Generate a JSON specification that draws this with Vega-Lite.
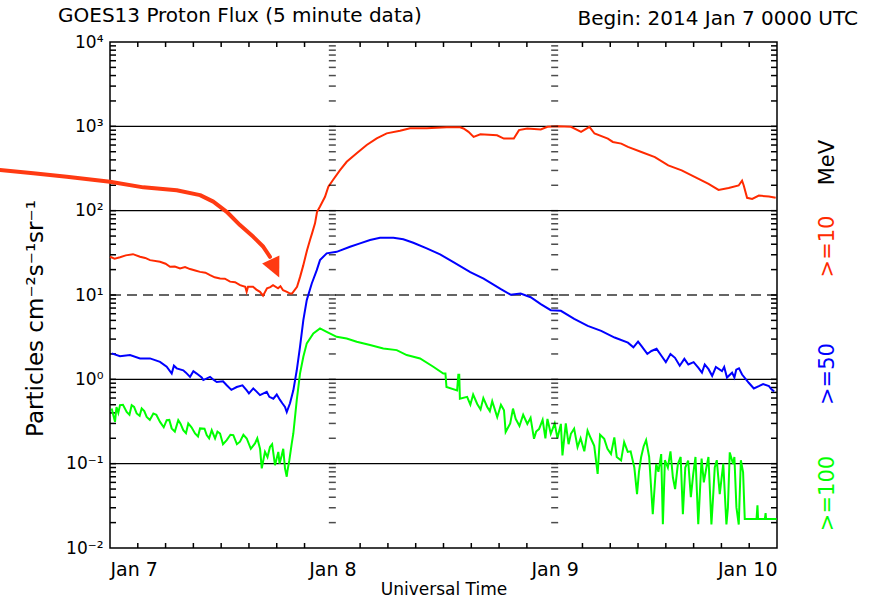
{
  "$schema": "https://vega.github.io/schema/vega-lite/v6.json",
  "width": 667,
  "height": 506,
  "autosize": {"type": "none"},
  "padding": {"left": 110, "top": 42, "right": 101, "bottom": 49},
  "background": "white",
  "config": {
    "font": "DejaVu Sans",
    "view": {"stroke": "black", "strokeWidth": 1.5},
    "axis": {"grid": false, "domain": false, "ticks": false, "labelColor": "black", "titleColor": "black", "titleFontWeight": "normal"}
  },
  "title": {"text": "GOES13 Proton Flux (5 minute data)", "anchor": "start", "frame": "group", "dx": -52, "fontSize": 20, "fontWeight": "normal", "color": "black", "offset": -17},
  "resolve": {"axis": {"x": "independent", "y": "independent"}},
  "datasets": {
    "grid": [{"v": 1000}, {"v": 100}, {"v": 1}, {"v": 0.1}],
    "ytick": [
      {"v": 0.02}, {"v": 0.03}, {"v": 0.04}, {"v": 0.05}, {"v": 0.06}, {"v": 0.07}, {"v": 0.08}, {"v": 0.09}, {"v": 0.1},
      {"v": 0.2}, {"v": 0.3}, {"v": 0.4}, {"v": 0.5}, {"v": 0.6}, {"v": 0.7}, {"v": 0.8}, {"v": 0.9}, {"v": 1},
      {"v": 2}, {"v": 3}, {"v": 4}, {"v": 5}, {"v": 6}, {"v": 7}, {"v": 8}, {"v": 9}, {"v": 10},
      {"v": 20}, {"v": 30}, {"v": 40}, {"v": 50}, {"v": 60}, {"v": 70}, {"v": 80}, {"v": 90}, {"v": 100},
      {"v": 200}, {"v": 300}, {"v": 400}, {"v": 500}, {"v": 600}, {"v": 700}, {"v": 800}, {"v": 900}, {"v": 1000},
      {"v": 2000}, {"v": 3000}, {"v": 4000}, {"v": 5000}, {"v": 6000}, {"v": 7000}, {"v": 8000}, {"v": 9000}
    ],
    "xtick": [
      {"h": 3}, {"h": 6}, {"h": 9}, {"h": 12}, {"h": 15}, {"h": 18}, {"h": 21},
      {"h": 27}, {"h": 30}, {"h": 33}, {"h": 36}, {"h": 39}, {"h": 42}, {"h": 45},
      {"h": 51}, {"h": 54}, {"h": 57}, {"h": 60}, {"h": 63}, {"h": 66}, {"h": 69}
    ],
    "p10": [
      {"h": 0, "v": 28.4}, {"h": 1.08, "v": 28}, {"h": 2.48, "v": 30.5}, {"h": 3.24, "v": 28.4}, {"h": 4.32, "v": 25.9},
      {"h": 5.4, "v": 24.8}, {"h": 6.48, "v": 21.6}, {"h": 7.56, "v": 20.7}, {"h": 8.64, "v": 20.3}, {"h": 9.72, "v": 18.8},
      {"h": 10.8, "v": 17.2}, {"h": 11.88, "v": 15.7}, {"h": 12.96, "v": 14.4}, {"h": 14.04, "v": 13.1}, {"h": 14.6, "v": 12.5},
      {"h": 14.75, "v": 10.9}, {"h": 14.9, "v": 12.5}, {"h": 15.44, "v": 12.5}, {"h": 16.19, "v": 10.9}, {"h": 16.52, "v": 9.8},
      {"h": 16.95, "v": 12.0}, {"h": 17.6, "v": 13.1}, {"h": 18.14, "v": 12.0}, {"h": 18.68, "v": 11.4}, {"h": 19.43, "v": 10.4},
      {"h": 19.65, "v": 10.4}, {"h": 20.19, "v": 12.5}, {"h": 20.52, "v": 16.4}, {"h": 20.84, "v": 22}, {"h": 21.27, "v": 34},
      {"h": 21.59, "v": 44.8}, {"h": 21.81, "v": 53.8}, {"h": 22.13, "v": 70.7}, {"h": 22.35, "v": 97}, {"h": 22.67, "v": 112},
      {"h": 23.21, "v": 146}, {"h": 23.57, "v": 192}, {"h": 24.07, "v": 231}, {"h": 24.83, "v": 303}, {"h": 25.55, "v": 380},
      {"h": 26.63, "v": 479}, {"h": 27.71, "v": 600}, {"h": 28.79, "v": 721}, {"h": 29.87, "v": 826}, {"h": 31.31, "v": 887},
      {"h": 32.39, "v": 946}, {"h": 34.19, "v": 946}, {"h": 36.35, "v": 973}, {"h": 37.79, "v": 973}, {"h": 38.16, "v": 942},
      {"h": 38.7, "v": 861}, {"h": 39.25, "v": 750}, {"h": 39.98, "v": 805}, {"h": 41.78, "v": 783}, {"h": 42.51, "v": 716},
      {"h": 43.59, "v": 716}, {"h": 44.15, "v": 902}, {"h": 45.04, "v": 942}, {"h": 46.5, "v": 916}, {"h": 47.22, "v": 986},
      {"h": 48.3, "v": 1000}, {"h": 49.76, "v": 986}, {"h": 50.85, "v": 861}, {"h": 51.75, "v": 986}, {"h": 52.3, "v": 822},
      {"h": 53.74, "v": 716}, {"h": 54.28, "v": 653}, {"h": 55.19, "v": 624}, {"h": 55.91, "v": 570}, {"h": 57.36, "v": 497},
      {"h": 58.82, "v": 432}, {"h": 60.26, "v": 344}, {"h": 61.71, "v": 300}, {"h": 63.16, "v": 250}, {"h": 64.61, "v": 208},
      {"h": 65.69, "v": 176}, {"h": 66.78, "v": 186}, {"h": 67.86, "v": 199}, {"h": 68.23, "v": 227}, {"h": 68.41, "v": 199},
      {"h": 68.77, "v": 142}, {"h": 69.32, "v": 138}, {"h": 70.04, "v": 151}, {"h": 71.13, "v": 147}, {"h": 71.86, "v": 142},
      {"h": 0.5, "v": 27}, {"h": 1.7, "v": 29.5}, {"h": 3.8, "v": 27.5}, {"h": 6.0, "v": 23.5}, {"h": 7.0, "v": 21.8},
      {"h": 8.1, "v": 21.5}, {"h": 9.2, "v": 19.5}, {"h": 10.3, "v": 18.4}, {"h": 11.3, "v": 16.2}, {"h": 12.4, "v": 15.6},
      {"h": 13.5, "v": 14.2}, {"h": 15.8, "v": 11.6}, {"h": 17.3, "v": 12.4}, {"h": 18.4, "v": 12.7}, {"h": 19.1, "v": 10.9}
    ],
    "p50": [
      {"h": 0.18, "v": 2.03}, {"h": 1.08, "v": 1.88}, {"h": 2.16, "v": 1.94}, {"h": 3.24, "v": 1.77}, {"h": 4.32, "v": 1.77},
      {"h": 5.4, "v": 1.61}, {"h": 6.12, "v": 1.41}, {"h": 6.66, "v": 1.17}, {"h": 7.2, "v": 1.35}, {"h": 7.91, "v": 1.28},
      {"h": 8.64, "v": 1.07}, {"h": 9.36, "v": 1.17}, {"h": 10.07, "v": 0.98}, {"h": 10.8, "v": 1.07}, {"h": 11.52, "v": 0.93},
      {"h": 12.6, "v": 0.85}, {"h": 13.68, "v": 0.81}, {"h": 14.76, "v": 0.74}, {"h": 15.47, "v": 0.78}, {"h": 16.19, "v": 0.65},
      {"h": 16.92, "v": 0.71}, {"h": 17.63, "v": 0.59}, {"h": 18.35, "v": 0.57}, {"h": 18.89, "v": 0.47}, {"h": 19.08, "v": 0.41},
      {"h": 19.43, "v": 0.52}, {"h": 19.79, "v": 0.74}, {"h": 20.16, "v": 1.28}, {"h": 20.51, "v": 2.43}, {"h": 20.87, "v": 5.04},
      {"h": 21.24, "v": 8.7}, {"h": 21.78, "v": 13.7}, {"h": 22.32, "v": 19.7}, {"h": 22.67, "v": 25.9}, {"h": 23.39, "v": 31.2},
      {"h": 24.47, "v": 32.5}, {"h": 25.91, "v": 37.3}, {"h": 26.99, "v": 40.9}, {"h": 28.07, "v": 44.8}, {"h": 29.15, "v": 47.7},
      {"h": 30.59, "v": 47.7}, {"h": 31.66, "v": 45.7}, {"h": 32.74, "v": 41.6}, {"h": 34.19, "v": 35.7}, {"h": 35.63, "v": 30.3},
      {"h": 37.07, "v": 24.6}, {"h": 38.89, "v": 18.7}, {"h": 40.33, "v": 15.6}, {"h": 42.15, "v": 11.8}, {"h": 43.24, "v": 10.1},
      {"h": 44.32, "v": 10.4}, {"h": 45.41, "v": 9.4}, {"h": 46.5, "v": 7.8}, {"h": 47.58, "v": 6.6}, {"h": 48.67, "v": 6.5},
      {"h": 50.11, "v": 5.2}, {"h": 51.57, "v": 4.3}, {"h": 53.02, "v": 3.76}, {"h": 54.47, "v": 3.13}, {"h": 55.91, "v": 2.72},
      {"h": 57.36, "v": 2.49}, {"h": 58.45, "v": 2.17}, {"h": 59.54, "v": 1.89}, {"h": 60.99, "v": 1.8}, {"h": 61.5, "v": 1.45},
      {"h": 62.0, "v": 1.75}, {"h": 62.43, "v": 1.5}, {"h": 63.52, "v": 1.37}, {"h": 64.61, "v": 1.32}, {"h": 65.0, "v": 1.1},
      {"h": 65.4, "v": 1.4}, {"h": 66.06, "v": 1.25}, {"h": 66.6, "v": 1.05}, {"h": 67.15, "v": 1.2}, {"h": 67.6, "v": 1.3},
      {"h": 68.23, "v": 1.14}, {"h": 68.95, "v": 0.91}, {"h": 70.04, "v": 0.83}, {"h": 71.13, "v": 0.83}, {"h": 71.69, "v": 0.72},
      {"h": 6.9, "v": 1.45}, {"h": 8.2, "v": 1.2}, {"h": 9.0, "v": 1.25}, {"h": 9.9, "v": 1.05}, {"h": 11.1, "v": 1.0},
      {"h": 12.2, "v": 0.95}, {"h": 13.1, "v": 0.75}, {"h": 14.3, "v": 0.85}, {"h": 15.0, "v": 0.68}, {"h": 15.8, "v": 0.72},
      {"h": 17.2, "v": 0.62}, {"h": 18.0, "v": 0.66}, {"h": 18.6, "v": 0.52},
      {"h": 56.5, "v": 2.4}, {"h": 57.0, "v": 2.8}, {"h": 58.0, "v": 2.0}, {"h": 59.0, "v": 2.3}, {"h": 60.0, "v": 1.6},
      {"h": 60.5, "v": 2.0}, {"h": 63.0, "v": 1.6}, {"h": 63.9, "v": 1.2}, {"h": 64.2, "v": 1.5}, {"h": 66.3, "v": 1.4},
      {"h": 67.4, "v": 1.05}, {"h": 67.9, "v": 1.35}, {"h": 69.5, "v": 0.78}, {"h": 70.5, "v": 0.88}, {"h": 71.4, "v": 0.76}
    ],
    "p100": [
      {"h": 0.18, "v": 0.452}, {"h": 0.54, "v": 0.313}, {"h": 0.7, "v": 0.47}, {"h": 1.08, "v": 0.494}, {"h": 1.8, "v": 0.411},
      {"h": 2.34, "v": 0.494}, {"h": 2.88, "v": 0.394}, {"h": 3.42, "v": 0.452}, {"h": 3.96, "v": 0.359}, {"h": 4.68, "v": 0.394},
      {"h": 5.4, "v": 0.313}, {"h": 6.12, "v": 0.328}, {"h": 6.66, "v": 0.262}, {"h": 7.37, "v": 0.328}, {"h": 7.91, "v": 0.249},
      {"h": 8.45, "v": 0.3}, {"h": 9.18, "v": 0.228}, {"h": 9.72, "v": 0.262}, {"h": 10.44, "v": 0.218}, {"h": 10.98, "v": 0.249},
      {"h": 11.34, "v": 0.199}, {"h": 11.88, "v": 0.228}, {"h": 12.6, "v": 0.19}, {"h": 13.31, "v": 0.218}, {"h": 14.03, "v": 0.182},
      {"h": 14.76, "v": 0.199}, {"h": 15.65, "v": 0.174}, {"h": 16.2, "v": 0.15}, {"h": 16.38, "v": 0.088}, {"h": 16.73, "v": 0.138},
      {"h": 17.27, "v": 0.158}, {"h": 17.81, "v": 0.096}, {"h": 18.17, "v": 0.138}, {"h": 18.54, "v": 0.126}, {"h": 18.89, "v": 0.088},
      {"h": 19.08, "v": 0.07}, {"h": 19.14, "v": 0.08}, {"h": 19.36, "v": 0.11}, {"h": 19.62, "v": 0.174}, {"h": 19.79, "v": 0.228},
      {"h": 20.16, "v": 0.566}, {"h": 20.51, "v": 1.17}, {"h": 20.87, "v": 1.85}, {"h": 21.24, "v": 2.67}, {"h": 21.95, "v": 3.5},
      {"h": 22.67, "v": 4.02}, {"h": 23.39, "v": 3.66}, {"h": 24.47, "v": 3.19}, {"h": 25.55, "v": 3.05}, {"h": 26.63, "v": 2.79},
      {"h": 28.07, "v": 2.55}, {"h": 29.5, "v": 2.32}, {"h": 30.95, "v": 2.22}, {"h": 32.03, "v": 1.94}, {"h": 33.47, "v": 1.77},
      {"h": 34.9, "v": 1.41}, {"h": 35.98, "v": 1.17}, {"h": 36.21, "v": 1.17}, {"h": 36.32, "v": 0.81}, {"h": 37.47, "v": 0.74},
      {"h": 37.6, "v": 1.13}, {"h": 37.7, "v": 1.13}, {"h": 37.77, "v": 0.59}, {"h": 38.55, "v": 0.62}, {"h": 39.64, "v": 0.51},
      {"h": 40.72, "v": 0.47}, {"h": 41.26, "v": 0.55}, {"h": 41.8, "v": 0.356}, {"h": 42.53, "v": 0.43}, {"h": 42.71, "v": 0.237},
      {"h": 43.79, "v": 0.34}, {"h": 45.05, "v": 0.296}, {"h": 45.77, "v": 0.197}, {"h": 46.31, "v": 0.257}, {"h": 47.22, "v": 0.34},
      {"h": 47.58, "v": 0.226}, {"h": 48.67, "v": 0.296}, {"h": 48.84, "v": 0.125}, {"h": 49.75, "v": 0.226}, {"h": 50.47, "v": 0.157},
      {"h": 51.55, "v": 0.247}, {"h": 52.27, "v": 0.163}, {"h": 52.64, "v": 0.0755}, {"h": 53.35, "v": 0.197}, {"h": 54.08, "v": 0.13},
      {"h": 54.44, "v": 0.205}, {"h": 55.17, "v": 0.109}, {"h": 55.89, "v": 0.138}, {"h": 56.6, "v": 0.09}, {"h": 56.89, "v": 0.0436},
      {"h": 57.33, "v": 0.119}, {"h": 57.87, "v": 0.19}, {"h": 58.59, "v": 0.0252}, {"h": 58.96, "v": 0.099}, {"h": 59.5, "v": 0.13},
      {"h": 59.68, "v": 0.0191}, {"h": 60.22, "v": 0.09}, {"h": 60.76, "v": 0.069}, {"h": 61.3, "v": 0.099}, {"h": 61.84, "v": 0.0252},
      {"h": 62.41, "v": 0.109}, {"h": 62.96, "v": 0.0755}, {"h": 63.5, "v": 0.0191}, {"h": 63.86, "v": 0.115}, {"h": 64.38, "v": 0.09},
      {"h": 64.92, "v": 0.019}, {"h": 65.28, "v": 0.09}, {"h": 65.82, "v": 0.0436}, {"h": 66.54, "v": 0.019}, {"h": 66.9, "v": 0.136},
      {"h": 67.26, "v": 0.099}, {"h": 67.62, "v": 0.0303}, {"h": 67.87, "v": 0.019}, {"h": 68.34, "v": 0.079}, {"h": 68.52, "v": 0.022},
      {"h": 69.79, "v": 0.022}, {"h": 69.89, "v": 0.032}, {"h": 69.96, "v": 0.022}, {"h": 70.69, "v": 0.022}, {"h": 70.77, "v": 0.026},
      {"h": 70.82, "v": 0.022}, {"h": 71.95, "v": 0.022},
      {"h": 0.3, "v": 0.4}, {"h": 0.9, "v": 0.4}, {"h": 1.4, "v": 0.5}, {"h": 2.1, "v": 0.38}, {"h": 2.6, "v": 0.47},
      {"h": 3.2, "v": 0.37}, {"h": 3.7, "v": 0.42}, {"h": 4.3, "v": 0.33}, {"h": 5.0, "v": 0.38}, {"h": 5.8, "v": 0.27},
      {"h": 6.4, "v": 0.33}, {"h": 7.0, "v": 0.24}, {"h": 7.6, "v": 0.3}, {"h": 8.2, "v": 0.23}, {"h": 8.8, "v": 0.27},
      {"h": 9.5, "v": 0.21}, {"h": 10.2, "v": 0.26}, {"h": 10.7, "v": 0.2}, {"h": 11.6, "v": 0.24}, {"h": 12.2, "v": 0.17},
      {"h": 13.0, "v": 0.22}, {"h": 13.7, "v": 0.17}, {"h": 14.4, "v": 0.22}, {"h": 15.2, "v": 0.15}, {"h": 15.9, "v": 0.2},
      {"h": 17.0, "v": 0.12}, {"h": 17.5, "v": 0.17}, {"h": 18.3, "v": 0.1}, {"h": 18.7, "v": 0.15},
      {"h": 38.9, "v": 0.5}, {"h": 39.2, "v": 0.66}, {"h": 40.0, "v": 0.44}, {"h": 40.3, "v": 0.6}, {"h": 41.0, "v": 0.42},
      {"h": 42.2, "v": 0.5}, {"h": 43.2, "v": 0.3}, {"h": 43.5, "v": 0.45}, {"h": 44.2, "v": 0.28}, {"h": 44.6, "v": 0.38},
      {"h": 45.4, "v": 0.35}, {"h": 46.0, "v": 0.24}, {"h": 46.7, "v": 0.33}, {"h": 47.0, "v": 0.2}, {"h": 48.0, "v": 0.3},
      {"h": 48.3, "v": 0.2}, {"h": 49.2, "v": 0.3}, {"h": 49.5, "v": 0.17}, {"h": 50.1, "v": 0.26}, {"h": 50.8, "v": 0.2},
      {"h": 51.2, "v": 0.14}, {"h": 51.9, "v": 0.2}, {"h": 52.9, "v": 0.22}, {"h": 53.7, "v": 0.15}, {"h": 54.7, "v": 0.12},
      {"h": 55.5, "v": 0.18}, {"h": 56.2, "v": 0.14}, {"h": 57.1, "v": 0.08}, {"h": 57.6, "v": 0.16}, {"h": 58.2, "v": 0.12},
      {"h": 59.2, "v": 0.08}, {"h": 59.9, "v": 0.11}, {"h": 60.5, "v": 0.14}, {"h": 61.0, "v": 0.05}, {"h": 61.6, "v": 0.12},
      {"h": 62.1, "v": 0.09}, {"h": 62.7, "v": 0.04}, {"h": 63.2, "v": 0.12}, {"h": 64.1, "v": 0.06}, {"h": 64.6, "v": 0.12},
      {"h": 65.1, "v": 0.04}, {"h": 65.5, "v": 0.11}, {"h": 66.2, "v": 0.1}, {"h": 66.7, "v": 0.03}, {"h": 67.4, "v": 0.12},
      {"h": 68.1, "v": 0.11}
    ],
    "arrow": [
      {"h": -11.88, "v": 303}, {"h": -8.28, "v": 277}, {"h": -4.67, "v": 252}, {"h": 0, "v": 220}, {"h": 3.6, "v": 189},
      {"h": 7.2, "v": 175}, {"h": 9.72, "v": 153}, {"h": 11.15, "v": 128}, {"h": 12.6, "v": 97}, {"h": 14.03, "v": 67.5},
      {"h": 15.47, "v": 49}, {"h": 16.55, "v": 37.3}, {"h": 17.27, "v": 28.4}
    ]
  },
  "layer": [
    {
      "data": {"name": "grid"},
      "mark": {"type": "rule", "color": "black", "strokeWidth": 1.3},
      "encoding": {
        "y": {"field": "v", "type": "quantitative", "scale": {"type": "log", "domain": [0.01, 10000], "nice": false}, "axis": null}
      }
    },
    {
      "data": {"values": [{"v": 10}]},
      "mark": {"type": "rule", "color": "#333333", "strokeWidth": 1.3, "strokeDash": [10, 6]},
      "encoding": {
        "y": {"field": "v", "type": "quantitative", "scale": {"type": "log", "domain": [0.01, 10000], "nice": false}, "axis": null}
      }
    },
    {
      "data": {"name": "ytick"},
      "mark": {"type": "rule", "color": "black", "strokeWidth": 1.5},
      "encoding": {
        "x": {"datum": 0, "type": "quantitative", "axis": null},
        "x2": {"datum": 0.65},
        "y": {"field": "v", "type": "quantitative", "axis": null}
      }
    },
    {
      "data": {"name": "ytick"},
      "mark": {"type": "rule", "color": "black", "strokeWidth": 1.5},
      "encoding": {
        "x": {"datum": 71.35, "type": "quantitative", "axis": null},
        "x2": {"datum": 72},
        "y": {"field": "v", "type": "quantitative", "axis": null}
      }
    },
    {
      "data": {"name": "xtick"},
      "mark": {"type": "rule", "color": "black", "strokeWidth": 1.5},
      "encoding": {
        "x": {"field": "h", "type": "quantitative", "axis": null},
        "y": {"datum": 10000, "type": "quantitative", "axis": null},
        "y2": {"datum": 8724}
      }
    },
    {
      "data": {"name": "xtick"},
      "mark": {"type": "rule", "color": "black", "strokeWidth": 1.5},
      "encoding": {
        "x": {"field": "h", "type": "quantitative", "axis": null},
        "y": {"datum": 0.01, "type": "quantitative", "axis": null},
        "y2": {"datum": 0.011463}
      }
    },
    {
      "data": {"name": "p10"},
      "mark": {"type": "line", "color": "#ff2a00", "strokeWidth": 2},
      "encoding": {
        "x": {"field": "h", "type": "quantitative", "scale": {"domain": [0, 72], "nice": false, "zero": false},
          "axis": {"orient": "bottom", "values": [0, 24, 48, 72], "labelFontSize": 19, "labelPadding": 12,
            "labelExpr": "['Jan 7','Jan 8','Jan 9','Jan 10'][round(datum.value/24)]",
            "title": "Universal Time", "titleFontSize": 17, "titlePadding": 2}},
        "y": {"field": "v", "type": "quantitative", "scale": {"type": "log", "domain": [0.01, 10000], "nice": false},
          "axis": {"orient": "left", "values": [0.01, 0.1, 1, 10, 100, 1000, 10000], "labelFontSize": 17, "labelPadding": 7,
            "labelExpr": "'10' + ['⁻²','⁻¹','⁰','¹','²','³','⁴'][round(log(datum.value)/LN10)+2]",
            "title": "Particles cm⁻²s⁻¹sr⁻¹", "titleFontSize": 23, "titlePadding": 18, "titleY": 276}}
      }
    },
    {
      "data": {"name": "p50"},
      "mark": {"type": "line", "color": "#0000ff", "strokeWidth": 2},
      "encoding": {
        "x": {"field": "h", "type": "quantitative", "axis": null},
        "y": {"field": "v", "type": "quantitative", "axis": null}
      }
    },
    {
      "data": {"name": "p100"},
      "mark": {"type": "line", "color": "#00ff00", "strokeWidth": 2},
      "encoding": {
        "x": {"field": "h", "type": "quantitative", "axis": null},
        "y": {"field": "v", "type": "quantitative", "axis": null}
      }
    },
    {
      "data": {"name": "ytick"},
      "mark": {"type": "tick", "orient": "horizontal", "color": "black", "size": 7, "thickness": 1.5},
      "encoding": {
        "x": {"datum": 24, "type": "quantitative", "axis": null},
        "y": {"field": "v", "type": "quantitative", "axis": null}
      }
    },
    {
      "data": {"name": "ytick"},
      "mark": {"type": "tick", "orient": "horizontal", "color": "black", "size": 7, "thickness": 1.5},
      "encoding": {
        "x": {"datum": 48, "type": "quantitative", "axis": null},
        "y": {"field": "v", "type": "quantitative", "axis": null}
      }
    },
    {
      "data": {"name": "arrow"},
      "mark": {"type": "line", "color": "#ff3a12", "strokeWidth": 4, "strokeCap": "round", "strokeJoin": "round", "clip": false},
      "encoding": {
        "x": {"field": "h", "type": "quantitative", "axis": null},
        "y": {"field": "v", "type": "quantitative", "axis": null}
      }
    },
    {
      "data": {"values": [{}]},
      "mark": {"type": "point", "shape": "M-0.95,-1L0.95,-1L0,1Z", "filled": true, "color": "#ff3a12", "opacity": 1, "size": 400, "angle": 335, "strokeWidth": 0},
      "encoding": {
        "x": {"datum": 17.81, "type": "quantitative", "axis": null},
        "y": {"datum": 20.6, "type": "quantitative", "axis": null}
      }
    },
    {
      "data": {"values": [{}]},
      "mark": {"type": "text", "text": "MeV", "angle": 270, "align": "center", "baseline": "middle", "fontSize": 21, "color": "black"},
      "encoding": {"x": {"datum": 77.5, "type": "quantitative", "axis": null}, "y": {"datum": 372, "type": "quantitative", "axis": null}}
    },
    {
      "data": {"values": [{}]},
      "mark": {"type": "text", "text": ">=10", "angle": 270, "align": "center", "baseline": "middle", "fontSize": 21, "color": "#ff2a00"},
      "encoding": {"x": {"datum": 77.5, "type": "quantitative", "axis": null}, "y": {"datum": 37.6, "type": "quantitative", "axis": null}}
    },
    {
      "data": {"values": [{}]},
      "mark": {"type": "text", "text": ">=50", "angle": 270, "align": "center", "baseline": "middle", "fontSize": 21, "color": "#0000ff"},
      "encoding": {"x": {"datum": 77.5, "type": "quantitative", "axis": null}, "y": {"datum": 1.156, "type": "quantitative", "axis": null}}
    },
    {
      "data": {"values": [{}]},
      "mark": {"type": "text", "text": ">=100", "angle": 270, "align": "center", "baseline": "middle", "fontSize": 21, "color": "#00ff00"},
      "encoding": {"x": {"datum": 77.5, "type": "quantitative", "axis": null}, "y": {"datum": 0.0443, "type": "quantitative", "axis": null}}
    },
    {
      "data": {"values": [{}]},
      "mark": {"type": "text", "text": "Begin: 2014 Jan 7 0000 UTC", "align": "right", "baseline": "alphabetic", "fontSize": 20, "color": "black"},
      "encoding": {"x": {"datum": 80.74, "type": "quantitative", "axis": null}, "y": {"datum": 15900, "type": "quantitative", "axis": null}}
    }
  ]
}
